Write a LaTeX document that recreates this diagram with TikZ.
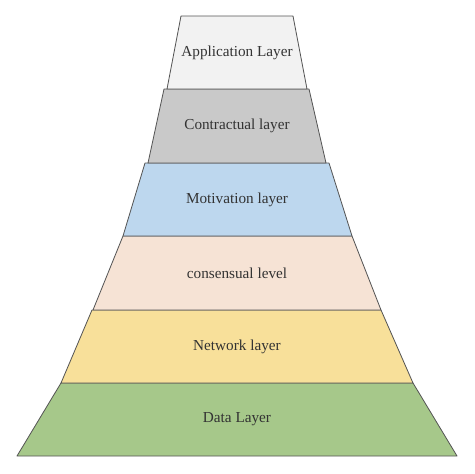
\documentclass[tikz,border=0pt]{standalone}
\usepackage{fontspec}
\setmainfont{Liberation Serif}
\definecolor{appgray}{HTML}{F2F2F2}
\definecolor{contractgray}{HTML}{C9C9C9}
\definecolor{motivblue}{HTML}{BDD7EE}
\definecolor{consenspeach}{HTML}{F6E3D5}
\definecolor{netyellow}{HTML}{F8E09A}
\definecolor{datagreen}{HTML}{A6C88A}
\definecolor{edgegray}{HTML}{555555}
\tikzstyle{layer}=[draw=edgegray, line width=0.7pt, line join=round]
\tikzstyle{layertext}=[text=black!80, font=\fontsize{13}{15}\selectfont]

\begin{document}
\begin{tikzpicture}[x=0.03cm, y=-0.03cm]
\useasboundingbox (0,0) rectangle (474,474);

\draw[layer, fill=datagreen] (61,383) -- (17,456) -- (457,456) -- (413,383) -- cycle;
\node[layertext] (data) at (237,419.5) {Data Layer};

\draw[layer, fill=netyellow] (92,310) -- (61,383) -- (413,383) -- (381,310) -- cycle;
\node[layertext] (net) at (237,346.5) {Network layer};

\draw[layer, fill=consenspeach] (123,236) -- (93,310) -- (381,310) -- (352,236) -- cycle;
\node[layertext] (cons) at (237,273) {consensual level};

\draw[layer, fill=motivblue] (145,163) -- (123,236) -- (352,236) -- (329,163) -- cycle;
\node[layertext] (motiv) at (237,199.5) {Motivation layer};

\draw[layer, fill=contractgray] (164,89) -- (148,163) -- (326,163) -- (309,89) -- cycle;
\node[layertext] (contract) at (237,126) {Contractual layer};

\draw[layer, fill=appgray] (181,16) -- (167,89) -- (307,89) -- (293,16) -- cycle;
\node[layertext] (app) at (237,52.5) {Application Layer};

\end{tikzpicture}
\end{document}
